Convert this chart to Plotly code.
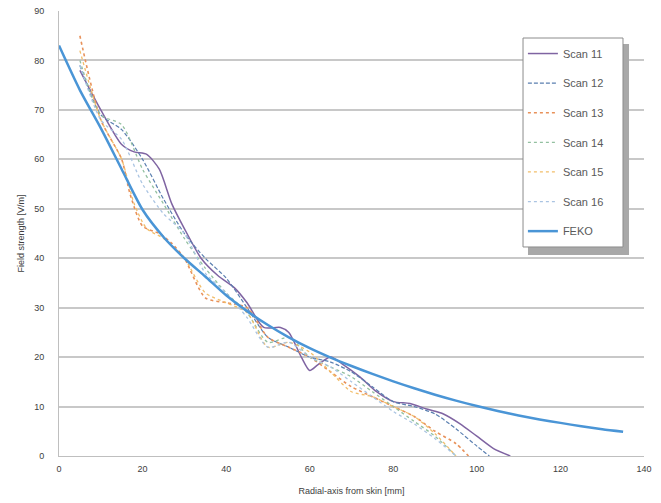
import plotly.graph_objects as go

# Data
scan11_x = [5, 10, 15, 18, 21, 24, 27, 30, 34, 38, 42, 45, 49, 53, 55, 58, 60, 62, 65, 68,
            72, 76, 80, 84, 88, 92, 96, 100, 104, 108]
scan11 = [78, 70, 63, 61.5, 61, 58, 51, 46, 40, 36.5, 34, 31, 26, 26, 25, 20, 17.3, 18.5, 20,
          18.5, 16, 13, 11, 10.6, 9.5, 8.5, 6.5, 4, 1.5, 0]
scan12_x = [5, 10, 15, 20, 25, 30, 35, 40, 45, 50, 55, 60, 65, 70, 75, 80, 85, 90, 95, 100, 103]
scan12 = [79, 69, 66, 60, 52, 45, 40, 36, 30, 24, 22, 20, 19, 17, 14, 11, 10, 8.5, 5.5, 2, 0]
scan13_x = [5, 10, 15, 17, 20, 24, 27, 30, 35, 40, 45, 50, 55, 60, 65, 70, 75, 80, 85, 90, 95, 98]
scan13 = [85, 68, 60, 53, 46.5, 45, 43, 40, 32, 31, 30, 24, 22, 20, 17, 14, 12, 10, 8, 5, 2.5, 0]
scan14_x = [5, 10, 15, 20, 25, 30, 35, 40, 45, 50, 55, 60, 65, 70, 75, 80, 85, 90, 95]
scan14 = [80, 69, 67, 58, 51, 44, 38, 33, 29, 23, 24, 20, 18, 16, 13, 10, 7, 4, 0]
scan15_x = [5, 10, 15, 18, 21, 25, 30, 35, 40, 45, 50, 55, 60, 65, 70, 75, 80, 85, 90, 95]
scan15 = [82, 68, 60, 51, 46, 44, 40, 33, 31, 29, 22, 23, 21, 17, 13, 12, 10, 8, 4.5, 0]
scan16_x = [5, 10, 15, 20, 25, 30, 35, 40, 45, 50, 55, 60, 65, 70, 75, 80, 85, 90, 95]
scan16 = [79, 68, 64, 55, 49, 45, 37, 33, 28, 22, 23, 20, 18, 15, 12, 9, 6.5, 3.5, 0]
feko_x = [0, 5, 10, 15, 20, 25, 30, 35, 40, 45, 50, 55, 60, 65, 70, 75, 80, 85, 90, 95,
          100, 105, 110, 115, 120, 125, 130, 135]
feko = [83, 74, 66.3, 58, 49.8, 44.3, 40, 36.3, 32.5, 29.3, 26.5, 24, 21.8, 19.9, 18.2, 16.6,
        15.1, 13.7, 12.4, 11.2, 10.1, 9.1, 8.2, 7.4, 6.7, 6, 5.4, 4.9]

series = [
    ("Scan 11", scan11_x, scan11, "#7f64a2", "solid", 1.5),
    ("Scan 12", scan12_x, scan12, "#5a7fb0", "4px,2px", 1.2),
    ("Scan 13", scan13_x, scan13, "#e8915a", "dot", 1.6),
    ("Scan 14", scan14_x, scan14, "#93c0a0", "dot", 1.3),
    ("Scan 15", scan15_x, scan15, "#f2be6a", "dot", 1.3),
    ("Scan 16", scan16_x, scan16, "#aac4e2", "dot", 1.3),
    ("FEKO", feko_x, feko, "#4a95d6", "solid", 2.5),
]

fig = go.Figure()
for name, xs, ys, color, dash, w in series:
    fig.add_trace(go.Scatter(
        x=xs, y=ys, name=name, mode="lines", legendgroup=name,
        line=dict(color=color, dash=dash, width=w, shape="spline", smoothing=0.7),
    ))

fig.update_layout(
    width=661, height=503,
    margin=dict(l=59, r=17, t=11, b=47),
    paper_bgcolor="white", plot_bgcolor="white",
    font=dict(family="Liberation Sans, Arial, sans-serif", size=9, color="#404040"),
    showlegend=True,
    legend=dict(
        x=0.793, y=0.937, xanchor="left", yanchor="top",
        bgcolor="rgba(0,0,0,0)", borderwidth=0,
        font=dict(size=11, color="#595959"),
        tracegroupgap=10.6, itemwidth=30,
    ),
    xaxis=dict(
        range=[0, 140], tickvals=[0, 20, 40, 60, 80, 100, 120, 140], automargin=False,
        showgrid=False, zeroline=False, showline=True, linecolor="#bfbfbf", linewidth=1,
        ticks="", tickfont=dict(size=9, color="#404040"), ticklabelstandoff=4,
        title=dict(text="Radial-axis from skin [mm]", font=dict(size=9, color="#404040"), standoff=14),
    ),
    yaxis=dict(
        range=[0, 90], tickvals=[0, 10, 20, 30, 40, 50, 60, 70, 80, 90], automargin=False,
        showgrid=True, gridcolor="#c8c8c8", gridwidth=1.5, zeroline=False,
        showline=True, linecolor="#bfbfbf", linewidth=1,
        ticks="", tickfont=dict(size=9, color="#404040"), ticklabelstandoff=12,
        title=dict(text="Field strength [V/m]", font=dict(size=9, color="#404040"), standoff=8),
    ),
)

# legend drop shadow and box
fig.add_shape(type="rect", xref="paper", yref="paper",
              x0=0.8017, x1=0.9744, y0=0.4517, y1=0.9258,
              fillcolor="#a8a8a8", line=dict(width=0), layer="above")
fig.add_shape(type="rect", xref="paper", yref="paper",
              x0=0.7932, x1=0.9641, y0=0.4697, y1=0.9393,
              fillcolor="white", line=dict(width=1, color="#8c8c8c"), layer="above")

fig.write_html("out.html", config={"displayModeBar": False},
               post_script="document.body.style.margin='0';")
